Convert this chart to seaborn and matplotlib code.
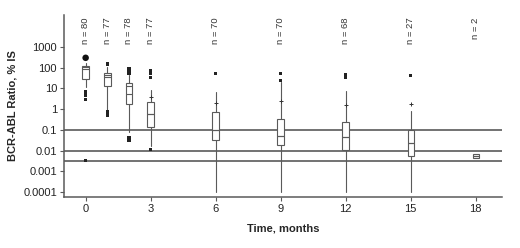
import matplotlib
matplotlib.use("Agg")
import matplotlib.pyplot as plt
import matplotlib.transforms as mtransforms
import seaborn as sns
import pandas as pd
import numpy as np

# time points (months) and sample size per time point
months = [0, 1, 2, 3, 6, 9, 12, 15, 18]
n_labels = ["n = 80", "n = 77", "n = 78", "n = 77", "n = 70", "n = 70", "n = 68", "n = 27", "n = 2"]

# box statistics (BCR-ABL ratio, % IS)
q1 = [28, 13.5, 1.7, 0.14, 0.032, 0.018, 0.011, 0.0056, 0.0045]
med = [87, 37, 5.2, 0.56, 0.098, 0.05, 0.047, 0.022, 0.0055]
q3 = [125, 54, 19, 2.3, 0.7, 0.32, 0.23, 0.098, 0.0065]
mean = [105, 43, 13.5, 0.56, 0.098, 0.05, 0.047, 0.022, 0.0055]
whislo = [12, 0.9, 0.08, 0.017, 0.0001, 0.0001, 0.0001, 0.0001, 0.0045]
whishi = [163, 110, 45, 8, 7, 21, 7.8, 0.83, 0.0065]

# outliers (dots) and percentile marks (small crosses)
out_month = [0, 0, 0, 0, 1, 1, 1, 2, 2, 2, 2, 2, 3, 3, 3, 3, 6, 9, 9, 12, 12, 15]
out_value = [6.9, 4.8, 2.8, 0.0032, 150, 0.75, 0.52, 93, 72, 54, 0.044, 0.032,
             70, 50, 35, 0.011, 50, 54, 23, 45, 33, 41]
big_month = [0]
big_value = [300]
mark_month = [3, 6, 9, 12, 15]
mark_value = [4, 2, 2.5, 1.5, 1.7]

# reference lines (MMR, MR4, MR4.5)
ref_lines = [0.1, 0.01, 0.0032]

yticks = [1000, 100, 10, 1, 0.1, 0.01, 0.001, 0.0001]
ytick_labels = ["1000", "100", "10", "1", "0.1", "0.01", "0.001", "0.0001"]
xticks = [0, 3, 6, 9, 12, 15, 18]

sns.set_style("ticks")
plt.rcParams['font.family'] = ['Liberation Sans', 'DejaVu Sans']

fig = plt.figure(figsize=(5.2, 2.48), dpi=100)
ax = fig.add_axes([0.123, 0.206, 0.842, 0.734])

line_col = "#5a5a5a"

for y in ref_lines:
    ax.axhline(y, color=line_col, lw=1.2, zorder=1)

stats = []
for i, m in enumerate(months):
    stats.append(dict(q1=q1[i], med=med[i], q3=q3[i], mean=mean[i],
                      whislo=whislo[i], whishi=whishi[i], fliers=[]))

ax.bxp(stats, positions=months, widths=0.3, showcaps=False, showfliers=False,
       showmeans=True, meanline=True, patch_artist=True,
       boxprops=dict(facecolor="white", edgecolor=line_col, lw=0.8),
       medianprops=dict(color=line_col, lw=0.8),
       meanprops=dict(color=line_col, lw=0.8, ls="-"),
       whiskerprops=dict(color=line_col, lw=0.8),
       manage_ticks=False, zorder=3)

df_out = pd.DataFrame({"month": out_month, "value": out_value})
sns.scatterplot(data=df_out, x="month", y="value", ax=ax, s=5, marker="s",
                color="#222222", edgecolor="none", zorder=4)
df_big = pd.DataFrame({"month": big_month, "value": big_value})
sns.scatterplot(data=df_big, x="month", y="value", ax=ax, s=22,
                color="#111111", edgecolor="none", zorder=4)
df_mark = pd.DataFrame({"month": mark_month, "value": mark_value})
sns.scatterplot(data=df_mark, x="month", y="value", ax=ax, s=10, marker="+",
                color="#333333", linewidth=0.7, zorder=4)

ax.set_yscale("log")
ax.set_ylim(10 ** -4.24, 10 ** 4.55)
ax.set_xlim(-1.0, 19.2)
ax.set_yticks(yticks)
ax.set_yticklabels(ytick_labels)
ax.minorticks_off()
ax.set_xticks(xticks)
ax.set_xticklabels([str(x) for x in xticks])
ax.tick_params(axis="both", labelsize=8, length=3, width=0.8, color=line_col, pad=2,
               labelcolor="#222222")

trans = mtransforms.blended_transform_factory(ax.transData, ax.transAxes)
for m, lab in zip(months, n_labels):
    ax.text(m, 0.985, lab, transform=trans, rotation=90, ha="center", va="top",
            fontsize=6.8, color="#333333")

ax.set_xlabel("Time, months", fontsize=8, fontweight="bold", labelpad=7)
ax.set_ylabel("BCR-ABL Ratio, % IS", fontsize=8, fontweight="bold", labelpad=4)

sns.despine(ax=ax)
for sp in ["left", "bottom"]:
    ax.spines[sp].set_color(line_col)
    ax.spines[sp].set_linewidth(1.1)

fig.savefig("out.png", dpi=100)
